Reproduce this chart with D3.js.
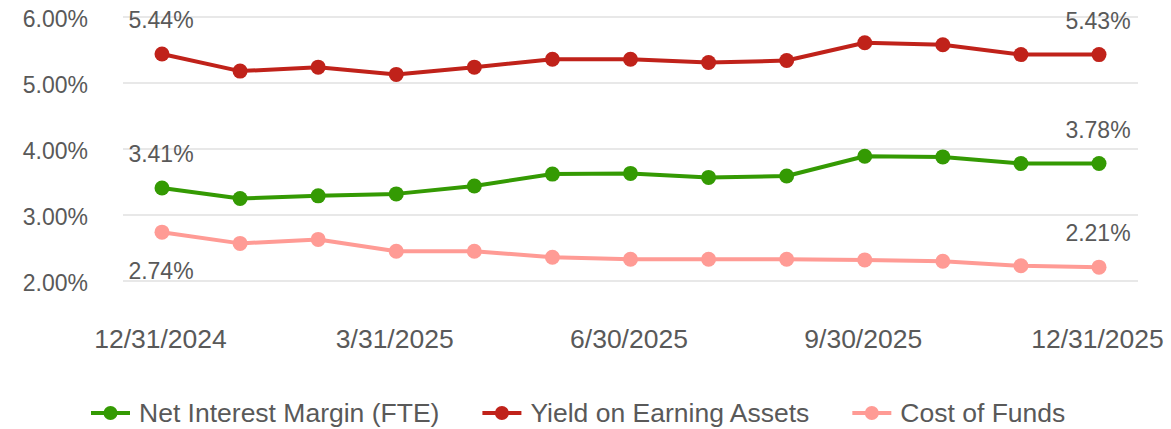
<!DOCTYPE html>
<html>
<head>
<meta charset="utf-8">
<script src="https://cdn.jsdelivr.net/npm/d3@7"></script>
<style>
  body { margin: 0; background: #fff; }
  text { font-family: "Liberation Sans", Arial, sans-serif; fill: #595959; }
</style>
</head>
<body>
<svg id="chart" width="1171" height="429"></svg>
<script>
const fechas = ["12/31/2024","1/31/2025","2/28/2025","3/31/2025","4/30/2025","5/31/2025","6/30/2025",
                "7/31/2025","8/31/2025","9/30/2025","10/31/2025","11/30/2025","12/31/2025"];
const etiquetasX = ["12/31/2024","3/31/2025","6/30/2025","9/30/2025","12/31/2025"];
const ticksY = [2,3,4,5,6];

const nim   = [3.41,3.25,3.29,3.32,3.44,3.62,3.63,3.57,3.59,3.89,3.88,3.78,3.78];
const yieldEA = [5.44,5.18,5.24,5.13,5.24,5.36,5.36,5.31,5.34,5.61,5.58,5.43,5.43];
const costo = [2.74,2.57,2.63,2.45,2.45,2.36,2.33,2.33,2.33,2.32,2.30,2.23,2.21];

const series = [
  {nombre:"Net Interest Margin (FTE)", valores:nim, color:"#349a03", inicio:"arriba", fin:"arriba"},
  {nombre:"Yield on Earning Assets", valores:yieldEA, color:"#c0221a", inicio:"arriba", fin:"arriba"},
  {nombre:"Cost of Funds", valores:costo, color:"#ff9b95", inicio:"abajo", fin:"arriba"}
];

const svg = d3.select("#chart");
const fmt = d => d.toFixed(2) + "%";

const sx = d3.scalePoint(fechas, [162, 1099]);
const sy = d3.scaleLinear([2, 6], [281, 17]);

// rejilla
svg.append("g").selectAll("line")
  .data(ticksY)
  .join("line")
  .attr("x1", 123).attr("x2", 1138)
  .attr("y1", d => sy(d)).attr("y2", d => sy(d))
  .attr("stroke", "#e0e0e0")
  .attr("stroke-width", 1.5);

// eje y
svg.append("g").selectAll("text")
  .data(ticksY)
  .join("text")
  .attr("x", 88)
  .attr("y", d => sy(d) + 2)
  .attr("dy", "0.36em")
  .attr("text-anchor", "end")
  .style("font-size", "23px")
  .text(d => fmt(d));

// eje x
const ejeX = svg.append("g")
  .attr("transform", "translate(0,329)")
  .call(d3.axisBottom(sx).tickValues(etiquetasX).tickSize(0).tickPadding(0));
ejeX.select(".domain").remove();
ejeX.selectAll("text")
  .attr("dy", "0.71em")
  .attr("x", -2)
  .attr("fill", "#595959")
  .style("font-size", "26.5px")
  .style("font-family", "Liberation Sans, Arial, sans-serif");

const linea = d3.line()
  .x((d, i) => sx(fechas[i]))
  .y(d => sy(d));

series.forEach(s => {
  const g = svg.append("g");
  g.append("path")
    .datum(s.valores)
    .attr("fill", "none")
    .attr("stroke", s.color)
    .attr("stroke-width", 4)
    .attr("stroke-linejoin", "round")
    .attr("d", linea);
  g.selectAll("circle")
    .data(s.valores)
    .join("circle")
    .attr("cx", (d, i) => sx(fechas[i]))
    .attr("cy", d => sy(d))
    .attr("r", 7.5)
    .attr("fill", s.color);

  const n = s.valores.length;
  const extremos = [
    {i:0, pos:s.inicio},
    {i:n - 1, pos:s.fin}
  ];
  g.selectAll("text")
    .data(extremos)
    .join("text")
    .attr("x", d => sx(fechas[d.i]) - 1)
    .attr("y", d => d.pos === "arriba" ? sy(s.valores[d.i]) - 26 : sy(s.valores[d.i]) + 47)
    .attr("text-anchor", "middle")
    .style("font-size", "23px")
    .text(d => fmt(s.valores[d.i]));
});

// leyenda
const ley = svg.append("g").attr("transform", "translate(0,413)");
let xl = 91;
series.forEach(s => {
  const item = ley.append("g").attr("transform", `translate(${xl},0)`);
  item.append("line")
    .attr("x1", 0).attr("x2", 39)
    .attr("stroke", s.color)
    .attr("stroke-width", 4);
  item.append("circle")
    .attr("cx", 19.5).attr("r", 7)
    .attr("fill", s.color);
  const t = item.append("text")
    .attr("x", 48)
    .attr("dy", "0.35em")
    .style("font-size", "26.5px")
    .text(s.nombre);
  xl += 48 + t.node().getComputedTextLength() + 43;
});
</script>
</body>
</html>
